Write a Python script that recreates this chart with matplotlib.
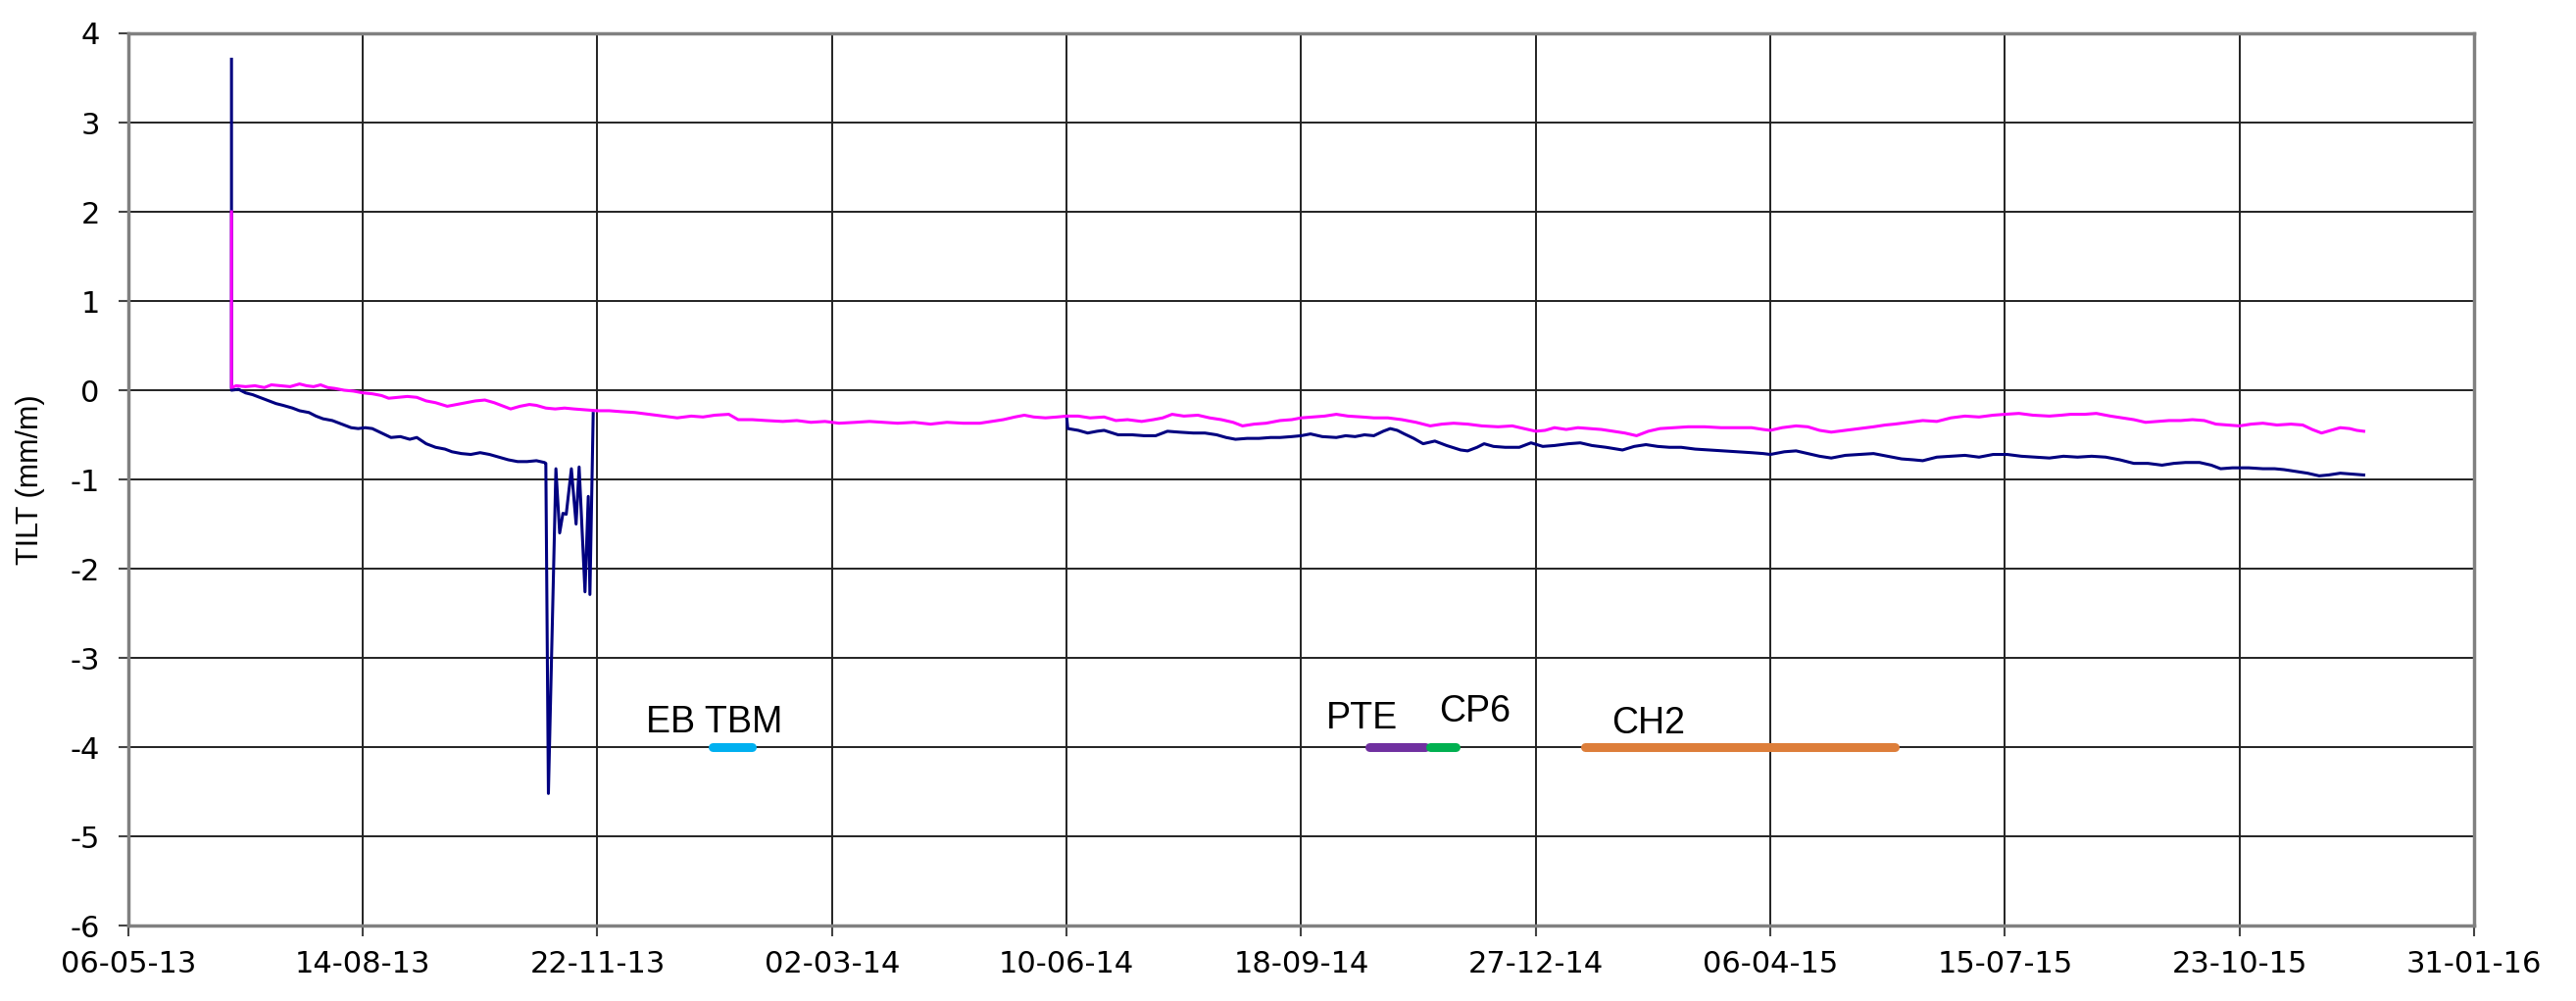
import numpy as np
import matplotlib
matplotlib.use("Agg")
import matplotlib.pyplot as plt
import matplotlib.dates as mdates

plt.rcParams["axes.unicode_minus"] = False

# days are counted from 06-05-13
start = np.datetime64("2013-05-06")

mag_day = [44, 44, 46, 50, 54, 58, 61, 65, 69, 73, 76, 79, 82, 85, 88, 92, 96, 100,
           104, 108, 111, 115, 119, 123, 127, 131, 136, 140, 144, 148, 152, 156, 160,
           163, 167, 171, 174, 178, 182, 186, 190, 195, 200, 205, 210, 216, 222, 228,
           234, 240, 245, 250, 256, 260, 266, 272, 279, 285, 291, 297, 303, 310, 316,
           322, 328, 335, 342, 349, 356, 363, 368, 373, 378, 382, 386, 391, 396, 400,
           405, 410, 416, 421, 426, 432, 437, 441, 445, 450, 456, 461, 466, 471, 475,
           480, 485, 491, 496, 500, 505, 510, 515, 520, 526, 531, 537, 543, 549, 555,
           560, 565, 571, 577, 584, 590, 595, 600, 604, 608, 613, 618, 623, 628, 633,
           638, 643, 648, 653, 659, 665, 672, 679, 686, 692, 697, 700, 705, 711, 716,
           721, 726, 732, 738, 744, 749, 753, 759, 765, 771, 777, 783, 789, 795, 800,
           806, 812, 819, 824, 828, 834, 839, 845, 850, 855, 860, 865, 870, 875, 880,
           885, 890, 895, 900, 905, 910, 916, 922, 927, 931, 935, 939, 943, 947, 950, 953]
mag_tilt = [2.0, 0.03, 0.05, 0.04, 0.05, 0.03, 0.06, 0.05, 0.04, 0.07, 0.05, 0.04, 0.06,
            0.03, 0.02, 0.0, -0.01, -0.03, -0.04, -0.06, -0.09, -0.08, -0.07, -0.08,
            -0.12, -0.14, -0.18, -0.16, -0.14, -0.12, -0.11, -0.14, -0.18, -0.21, -0.18,
            -0.16, -0.17, -0.20, -0.21, -0.20, -0.21, -0.22, -0.23, -0.23, -0.24, -0.25,
            -0.27, -0.29, -0.31, -0.29, -0.30, -0.28, -0.27, -0.33, -0.33, -0.34, -0.35,
            -0.34, -0.36, -0.35, -0.37, -0.36, -0.35, -0.36, -0.37, -0.36, -0.38, -0.36,
            -0.37, -0.37, -0.35, -0.33, -0.30, -0.28, -0.30, -0.31, -0.30, -0.29, -0.29,
            -0.31, -0.30, -0.34, -0.33, -0.35, -0.33, -0.31, -0.27, -0.29, -0.28, -0.31,
            -0.33, -0.36, -0.40, -0.38, -0.37, -0.34, -0.33, -0.31, -0.30, -0.29, -0.27,
            -0.29, -0.30, -0.31, -0.31, -0.33, -0.36, -0.40, -0.38, -0.37, -0.38, -0.40,
            -0.41, -0.40, -0.43, -0.46, -0.45, -0.42, -0.44, -0.42, -0.43, -0.44, -0.46,
            -0.48, -0.51, -0.46, -0.43, -0.42, -0.41, -0.41, -0.42, -0.42, -0.42, -0.44,
            -0.45, -0.42, -0.40, -0.41, -0.45, -0.47, -0.45, -0.43, -0.41, -0.39, -0.38,
            -0.36, -0.34, -0.35, -0.31, -0.29, -0.30, -0.28, -0.27, -0.26, -0.28, -0.29,
            -0.28, -0.27, -0.27, -0.26, -0.29, -0.31, -0.33, -0.36, -0.35, -0.34, -0.34,
            -0.33, -0.34, -0.38, -0.39, -0.40, -0.38, -0.37, -0.39, -0.38, -0.39, -0.44,
            -0.48, -0.45, -0.42, -0.43, -0.45, -0.46]

blue_day = [44, 44, 47, 50, 53, 56, 60, 63, 66, 70, 73, 77, 80, 83, 87, 91, 95, 98, 101,
            104, 108, 112, 116, 120, 123, 127, 131, 135, 138, 142, 146, 150, 154, 158,
            162, 166, 170, 174, 177.4, 178, 179.1, 182.3, 183.9, 185.3, 186.7, 188.9,
            190.9, 192.2, 194.7, 196.1, 196.8, 198.2, 199,
            400, 400.5, 405, 409, 413, 416, 422, 428, 433, 438, 443, 448, 454, 459, 464,
            468, 472, 477, 482, 487, 491, 496, 500, 504, 509, 515, 519, 523, 527, 531,
            535, 538, 541, 544, 548, 552, 557, 562, 568, 571, 575, 578, 582, 587, 593,
            598, 603, 608, 614, 619, 624, 630, 637, 642, 647, 652, 657, 662, 668, 674,
            680, 686, 692, 697, 700, 706, 711, 716, 721, 726, 732, 738, 744, 750, 756,
            761, 765, 771, 777, 783, 789, 795, 801, 807, 813, 819, 825, 831, 837, 843,
            849, 855, 861, 867, 872, 877, 883, 888, 892, 897, 904, 910, 915, 919, 924,
            929, 934, 938, 943, 948, 953]
blue_tilt = [3.71, 0.0, 0.01, -0.03, -0.05, -0.08, -0.12, -0.15, -0.17, -0.20, -0.23,
             -0.25, -0.29, -0.32, -0.34, -0.38, -0.42, -0.43, -0.42, -0.43, -0.48, -0.53,
             -0.52, -0.55, -0.53, -0.60, -0.64, -0.66, -0.69, -0.71, -0.72, -0.70, -0.72,
             -0.75, -0.78, -0.80, -0.80, -0.79, -0.81, -0.82, -4.52, -0.88, -1.60, -1.38,
             -1.39, -0.88, -1.50, -0.86, -2.26, -1.19, -2.29, -0.26, np.nan,
             -0.29, -0.43, -0.45, -0.48, -0.46, -0.45, -0.50, -0.50, -0.51, -0.51, -0.46,
             -0.47, -0.48, -0.48, -0.50, -0.53, -0.55, -0.54, -0.54, -0.53, -0.53, -0.52,
             -0.51, -0.49, -0.52, -0.53, -0.51, -0.52, -0.50, -0.51, -0.46, -0.43, -0.45,
             -0.49, -0.54, -0.60, -0.57, -0.62, -0.67, -0.68, -0.64, -0.60, -0.63, -0.64,
             -0.64, -0.59, -0.63, -0.62, -0.60, -0.59, -0.62, -0.64, -0.67, -0.63, -0.61,
             -0.63, -0.64, -0.64, -0.66, -0.67, -0.68, -0.69, -0.70, -0.71, -0.72, -0.69,
             -0.68, -0.71, -0.74, -0.76, -0.73, -0.72, -0.71, -0.74, -0.77, -0.78, -0.79,
             -0.75, -0.74, -0.73, -0.75, -0.72, -0.72, -0.74, -0.75, -0.76, -0.74, -0.75,
             -0.74, -0.75, -0.78, -0.82, -0.82, -0.84, -0.82, -0.81, -0.81, -0.84, -0.88,
             -0.87, -0.87, -0.88, -0.88, -0.89, -0.91, -0.93, -0.96, -0.95, -0.93, -0.94,
             -0.95]

# works periods drawn as bars at -4
work_names = ["EB TBM", "PTE", "CP6", "CH2"]
work_from = [249, 529, 555, 621]
work_to = [266, 553, 566, 753]
work_colors = ["#00B0F0", "#7030A0", "#00B050", "#DD7E3A"]
label_day = [250, 526, 574, 648]
label_y = [-3.83, -3.79, -3.71, -3.85]


def to_date(days):
    return start + (np.array(days) * 24 * 3600).astype("timedelta64[s]")


fig = plt.figure(figsize=(26.28, 10.21), dpi=100)
ax = fig.add_axes([0.0498, 0.0754, 0.9106, 0.8913])

ax.plot(to_date(blue_day), blue_tilt, color="#000080", lw=2.2, zorder=3)
ax.plot(to_date(mag_day), mag_tilt, color="#FF00FF", lw=2.2, zorder=4)

for i in range(len(work_names)):
    ax.plot(to_date([work_from[i], work_to[i]]), [-4, -4], color=work_colors[i],
            lw=6.5, solid_capstyle="round", zorder=5)
    ax.text(to_date([label_day[i]])[0], label_y[i], work_names[i], ha="center",
            va="baseline", fontsize=27, family="Liberation Sans", zorder=6)

ticks = to_date(np.arange(0, 1001, 100))
ax.set_xticks(ticks)
ax.xaxis.set_major_formatter(mdates.DateFormatter("%d-%m-%y"))
ax.set_xlim(ticks[0], ticks[-1])
ax.set_ylim(-6, 4)
ax.set_yticks(np.arange(-6, 5, 1))

ax.grid(True, color="#222222", lw=1.4)
ax.set_axisbelow(True)
for s in ax.spines.values():
    s.set_color("#808080")
    s.set_linewidth(2.5)

ax.tick_params(axis="x", labelsize=22, length=8, width=1.5, color="#444444", pad=10)
ax.tick_params(axis="y", labelsize=22, length=7, width=1.5, color="#444444", pad=14)
ax.set_ylabel("TILT (mm/m)", fontsize=22, family="Liberation Sans", labelpad=18)

plt.savefig("out.png", dpi=100)
